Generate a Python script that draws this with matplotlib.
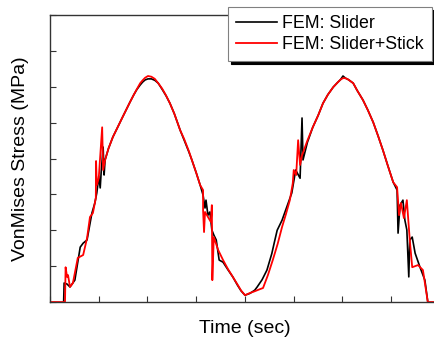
import matplotlib
matplotlib.use('Agg')
import matplotlib.pyplot as plt
import numpy as np

# time (arbitrary units, one tick = 1) and stress (arbitrary units, one tick = 1)
t_slider = [0.28, 0.29, 0.35, 0.41, 0.51, 0.62, 0.68, 0.76, 0.86, 0.92, 0.96, 0.98, 1.00, 1.03,
            1.05, 1.09, 1.11, 1.13, 1.20, 1.29, 1.38, 1.48, 1.56, 1.64, 1.72, 1.78, 1.85, 1.90,
            1.95, 2.01, 2.08, 2.15, 2.22, 2.30, 2.38, 2.46, 2.55, 2.67, 2.75, 2.85, 2.91, 3.00,
            3.08, 3.14, 3.18, 3.20, 3.24, 3.28, 3.32, 3.36, 3.41, 3.47, 3.55, 3.65, 3.75, 3.85,
            3.92, 4.00, 4.10, 4.20, 4.25, 4.35, 4.45, 4.55, 4.60, 4.66, 4.76, 4.86, 4.96, 5.04,
            5.13, 5.17, 5.19, 5.28, 5.39, 5.50, 5.60, 5.70, 5.81, 5.90, 5.96, 6.01, 6.06, 6.12,
            6.22, 6.30, 6.42, 6.52, 6.63, 6.73, 6.83, 6.93, 7.04, 7.12, 7.14, 7.18, 7.24, 7.28,
            7.32, 7.36, 7.38, 7.43, 7.49, 7.59, 7.69, 7.75]
s_slider = [0.00, 0.53, 0.50, 0.42, 0.61, 1.53, 1.64, 1.73, 2.48, 2.76, 3.04, 3.26, 3.51, 3.18,
            3.62, 4.32, 3.54, 3.96, 4.28, 4.60, 4.85, 5.13, 5.35, 5.57, 5.78, 5.92, 6.05, 6.13,
            6.19, 6.22, 6.22, 6.18, 6.10, 5.93, 5.75, 5.54, 5.25, 4.79, 4.52, 4.18, 3.96, 3.60,
            3.26, 2.98, 2.62, 2.84, 2.42, 2.51, 2.01, 1.87, 1.73, 1.17, 1.11, 0.90, 0.70, 0.46,
            0.31, 0.19, 0.24, 0.33, 0.42, 0.62, 0.89, 1.35, 1.65, 2.00, 2.28, 2.66, 3.04, 3.68,
            3.45, 5.13, 3.96, 4.45, 4.87, 5.20, 5.54, 5.78, 5.99, 6.12, 6.20, 6.30, 6.24, 6.20,
            6.10, 5.90, 5.63, 5.35, 5.01, 4.63, 4.23, 3.80, 3.34, 3.12, 1.92, 2.70, 2.84, 2.28,
            2.01, 0.70, 1.73, 1.81, 1.36, 0.97, 0.61, 0.00]

t_stick = [0.00, 0.308, 0.32, 0.35, 0.37, 0.41, 0.47, 0.57, 0.68, 0.76, 0.82, 0.88, 0.94, 0.945,
           0.96, 1.00, 1.07, 1.09, 1.13, 1.20, 1.29, 1.38, 1.48, 1.56, 1.64, 1.72, 1.78, 1.85,
           1.90, 1.95, 2.01, 2.08, 2.15, 2.22, 2.30, 2.38, 2.46, 2.55, 2.67, 2.75, 2.85, 2.91,
           3.00, 3.08, 3.14, 3.14, 3.16, 3.18, 3.22, 3.30, 3.32, 3.33, 3.36, 3.45, 3.55, 3.65,
           3.75, 3.85, 3.92, 4.00, 4.10, 4.20, 4.31, 4.37, 4.47, 4.57, 4.67, 4.76, 4.84, 4.92,
           4.98, 5.00, 5.05, 5.09, 5.13, 5.17, 5.28, 5.39, 5.50, 5.60, 5.70, 5.81, 5.90, 5.96,
           6.01, 6.06, 6.12, 6.22, 6.30, 6.42, 6.52, 6.63, 6.73, 6.83, 6.93, 7.04, 7.12, 7.16,
           7.20, 7.26, 7.32, 7.38, 7.43, 7.55, 7.65, 7.75, 7.90]
s_stick = [0.00, 0.00, 0.97, 0.70, 0.75, 0.42, 0.53, 1.23, 1.31, 1.78, 2.37, 2.48, 2.90, 3.93,
           3.26, 3.45, 4.87, 3.68, 3.96, 4.28, 4.60, 4.85, 5.13, 5.35, 5.57, 5.78, 5.93, 6.10,
           6.18, 6.25, 6.30, 6.28, 6.22, 6.10, 5.95, 5.76, 5.54, 5.25, 4.79, 4.55, 4.20, 3.96,
           3.60, 3.26, 3.12, 2.56, 1.95, 2.51, 2.42, 2.23, 2.70, 0.61, 1.81, 1.45, 1.17, 0.92,
           0.70, 0.48, 0.32, 0.19, 0.25, 0.30, 0.36, 0.39, 0.75, 1.17, 1.62, 2.09, 2.45, 2.84,
           3.31, 3.68, 3.54, 4.51, 3.82, 4.09, 4.50, 4.87, 5.20, 5.54, 5.78, 5.99, 6.12, 6.20,
           6.24, 6.24, 6.20, 6.10, 5.90, 5.63, 5.35, 5.01, 4.63, 4.23, 3.80, 3.34, 3.20, 2.42,
           2.76, 2.34, 2.84, 1.73, 0.97, 1.03, 0.89, 0.00, 0.00]

fig = plt.figure(figsize=(4.34, 3.39), dpi=100)
ax = fig.add_axes([0.1152, 0.1091, 0.8986, 0.8466])

ax.plot(t_slider, s_slider, color='black', lw=1.2, label='FEM: Slider')
ax.plot(t_stick, s_stick, color='#ff0000', lw=1.3, label='FEM: Slider+Stick')

ax.set_xlim(0, 8)
ax.set_ylim(0, 8)
ax.set_xticks(np.arange(0, 9, 1))
ax.set_yticks(np.arange(0, 9, 1))
ax.tick_params(direction='in', length=4, width=0.8, color='#333333',
               labelbottom=False, labelleft=False)
for sp in ax.spines.values():
	sp.set_color('#333333')
	sp.set_linewidth(1.0)

ax.set_xlabel('Time (sec)', fontsize=14, family='Liberation Sans', labelpad=13)
ax.set_ylabel('VonMises Stress (MPa)', fontsize=14, family='Liberation Sans', labelpad=15)

leg = ax.legend(loc='upper right', bbox_to_anchor=(432/434, 1 - 7/339),
                bbox_transform=fig.transFigure, frameon=True, fancybox=False,
                shadow={'color': 'black', 'alpha': 1}, edgecolor='#808080',
                prop={'family': 'Liberation Sans', 'size': 12.8},
                handlelength=2.3, handletextpad=0.3, borderpad=0.45,
                labelspacing=0.25, borderaxespad=0)
leg.get_frame().set_linewidth(0.8)
leg.get_frame().set_alpha(1)

plt.savefig('out.png', dpi=100)
